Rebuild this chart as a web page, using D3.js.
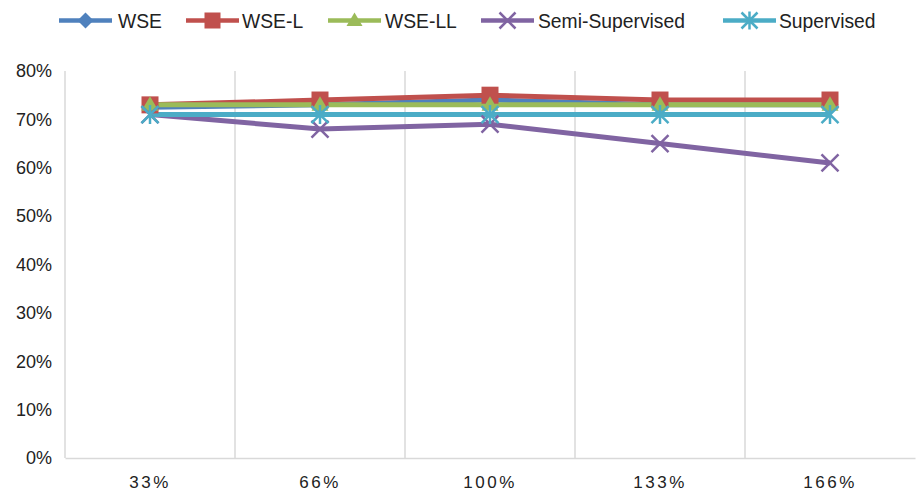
<!DOCTYPE html>
<html>
<head>
<meta charset="utf-8">
<script src="https://cdn.jsdelivr.net/npm/d3@7"></script>
<style>
  body { margin: 0; background: #fff; }
  text { font-family: "Liberation Sans", "DejaVu Sans", sans-serif; fill: #222; }
</style>
</head>
<body>
<svg id="chart" width="921" height="493"></svg>
<script>
// Training-set size (relative) on the x axis
const categories = ["33%", "66%", "100%", "133%", "166%"];
const yTicks = [0, 0.1, 0.2, 0.3, 0.4, 0.5, 0.6, 0.7, 0.8];

// Accuracy per method
const wse        = [0.725, 0.73, 0.74, 0.73, 0.73];
const wseL       = [0.73, 0.74, 0.75, 0.74, 0.74];
const wseLL      = [0.73, 0.73, 0.73, 0.73, 0.73];
const semiSup    = [0.71, 0.68, 0.69, 0.65, 0.61];
const supervised = [0.71, 0.71, 0.71, 0.71, 0.71];

const seriesNames = ["WSE", "WSE-L", "WSE-LL", "Semi-Supervised", "Supervised"];
const seriesValues = [wse, wseL, wseLL, semiSup, supervised];
const colors = ["#4F81BD", "#C0504D", "#9BBB59", "#8064A2", "#4BACC6"];
const markers = ["diamond", "square", "triangle", "x", "asterisk"];

const svg = d3.select("#chart");
const margin = { left: 65, right: 6, top: 71, bottom: 35 };
const W = 921, H = 493;

const x = d3.scaleBand().domain(categories).range([margin.left, W - margin.right]);
const y = d3.scaleLinear().domain([0, 0.8]).range([H - margin.bottom, margin.top]);

// Vertical gridlines: left edge plus category boundaries
const bounds = [x(categories[0])].concat(categories.slice(1).map(c => x(c)));
svg.append("g").selectAll("line").data(bounds).join("line")
  .attr("x1", d => d).attr("x2", d => d)
  .attr("y1", y(0)).attr("y2", y(0.8))
  .attr("stroke", "#d9d9d9").attr("stroke-width", 1.5);

// Y axis labels
const yAxis = d3.axisLeft(y).tickValues(yTicks).tickFormat(d3.format(".0%")).tickSize(0).tickPadding(13);
const gy = svg.append("g").attr("transform", `translate(${margin.left},0)`).call(yAxis);
gy.select(".domain").remove();
gy.selectAll("text").style("font-size", "18px").attr("fill", "#222");

// X axis
const xAxis = d3.axisBottom(x).tickSize(0).tickPadding(18);
const gx = svg.append("g").attr("transform", `translate(0,${y(0)})`).call(xAxis);
gx.select(".domain").attr("stroke", "#d9d9d9").attr("stroke-width", 1.5);
gx.selectAll("text").style("font-size", "17px").style("letter-spacing", "2.5px").attr("fill", "#222");

// Marker drawing
function drawMarker(g, type, cx, cy, color, s) {
  if (type === "diamond") {
    g.append("path").attr("d", `M${cx},${cy - s}L${cx + s},${cy}L${cx},${cy + s}L${cx - s},${cy}Z`).attr("fill", color);
  } else if (type === "square") {
    g.append("rect").attr("x", cx - s).attr("y", cy - s).attr("width", 2 * s).attr("height", 2 * s).attr("fill", color);
  } else if (type === "triangle") {
    g.append("path").attr("d", `M${cx},${cy - s}L${cx + s},${cy + s * 0.7}L${cx - s},${cy + s * 0.7}Z`).attr("fill", color);
  } else if (type === "x") {
    g.append("path").attr("d", `M${cx - s},${cy - s}L${cx + s},${cy + s}M${cx - s},${cy + s}L${cx + s},${cy - s}`)
      .attr("stroke", color).attr("stroke-width", 2.5).attr("fill", "none");
  } else if (type === "asterisk") {
    g.append("path").attr("d", `M${cx - s},${cy - s}L${cx + s},${cy + s}M${cx - s},${cy + s}L${cx + s},${cy - s}M${cx},${cy - s - 1}L${cx},${cy + s + 1}`)
      .attr("stroke", color).attr("stroke-width", 2.5).attr("fill", "none");
  }
}

const line = d3.line().x((d, i) => x(categories[i]) + x.bandwidth() / 2).y(d => y(d));

// Lines
const lines = svg.append("g");
seriesValues.forEach((vals, k) => {
  lines.append("path").datum(vals).attr("d", line)
    .attr("fill", "none").attr("stroke", colors[k]).attr("stroke-width", 5)
    .attr("stroke-linejoin", "round");
});
// Markers
const mk = svg.append("g");
seriesValues.forEach((vals, k) => {
  vals.forEach((v, i) => drawMarker(mk, markers[k], x(categories[i]) + x.bandwidth() / 2, y(v), colors[k], 8.5));
});

// Legend
const legendPos = [[59, 118], [186, 242], [328, 385], [481, 538], [723, 779]];
const lg = svg.append("g");
seriesNames.forEach((name, k) => {
  const [x0, tx] = legendPos[k];
  const ly = 20.5;
  lg.append("line").attr("x1", x0).attr("x2", x0 + 53).attr("y1", ly).attr("y2", ly)
    .attr("stroke", colors[k]).attr("stroke-width", 4.5);
  drawMarker(lg, markers[k], x0 + 26.5, ly, colors[k], 8);
  lg.append("text").attr("transform", `translate(${tx},${ly}) scale(0.92,1)`).attr("dy", "0.36em")
    .style("font-size", "21px").text(name);
});
</script>
</body>
</html>
